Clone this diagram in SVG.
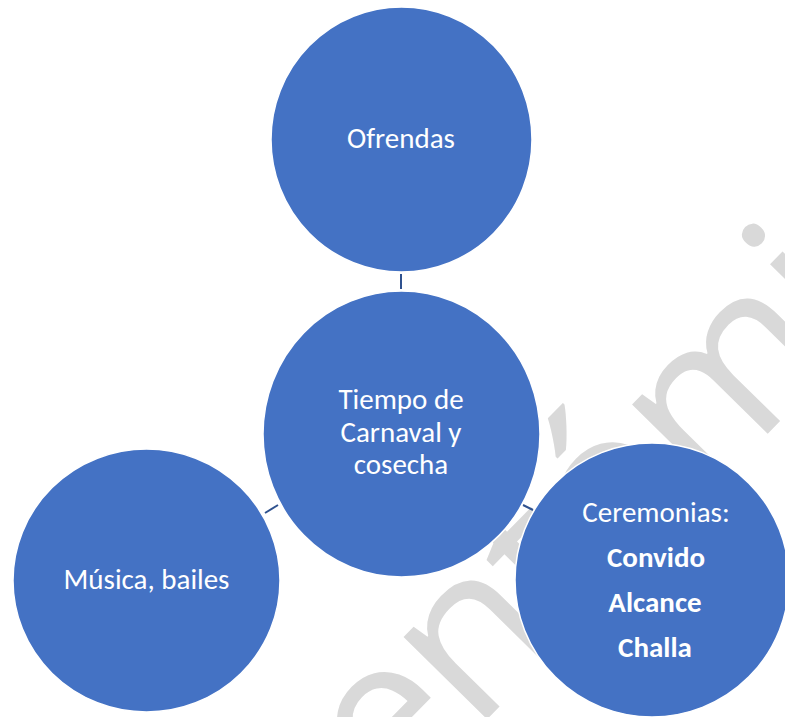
<svg xmlns="http://www.w3.org/2000/svg" width="785" height="717" viewBox="0 0 785 717">
<style>
.node{fill:#4472c4;stroke:#ffffff;stroke-width:1.5}
.lbl{font-family:Carlito,Lato,"Open Sans",sans-serif;font-size:29px;fill:#ffffff;text-anchor:middle}
.b{font-weight:bold}
.conn line{stroke:#2f528f;stroke-width:2}
.wm{font-family:"Open Sans","Noto Sans",sans-serif;font-size:219px;fill:#d9d9d9;letter-spacing:-6px}
</style>
<rect width="785" height="717" fill="#ffffff"/>
<text class="wm" transform="translate(392,816) rotate(-45.5)">entómit</text>
<g class="conn" id="connectors">
<line x1="401" y1="274" x2="401" y2="289"/>
<line x1="265" y1="513" x2="278" y2="505"/>
<line x1="523" y1="505" x2="533" y2="510"/>
</g>
<g id="ofrendas">
<ellipse class="node" cx="401.5" cy="139.5" rx="130.5" ry="132.5"/>
<text class="lbl" x="401" y="148">Ofrendas</text>
</g>
<g id="centro">
<ellipse class="node" cx="401.5" cy="434" rx="138.5" ry="143"/>
<text class="lbl" x="401" y="409">Tiempo de</text>
<text class="lbl" x="401" y="442">Carnaval y</text>
<text class="lbl" x="401" y="474">cosecha</text>
</g>
<g id="musica">
<ellipse class="node" cx="146.5" cy="580.5" rx="133.5" ry="131.5"/>
<text class="lbl" x="146.5" y="589">Música, bailes</text>
</g>
<g id="ceremonias">
<ellipse class="node" cx="652" cy="580" rx="137" ry="137"/>
<text class="lbl" x="656" y="522">Ceremonias:</text>
<text class="lbl b" x="656" y="567">Convido</text>
<text class="lbl b" x="655" y="612">Alcance</text>
<text class="lbl b" x="655" y="657">Challa</text>
</g>
</svg>
